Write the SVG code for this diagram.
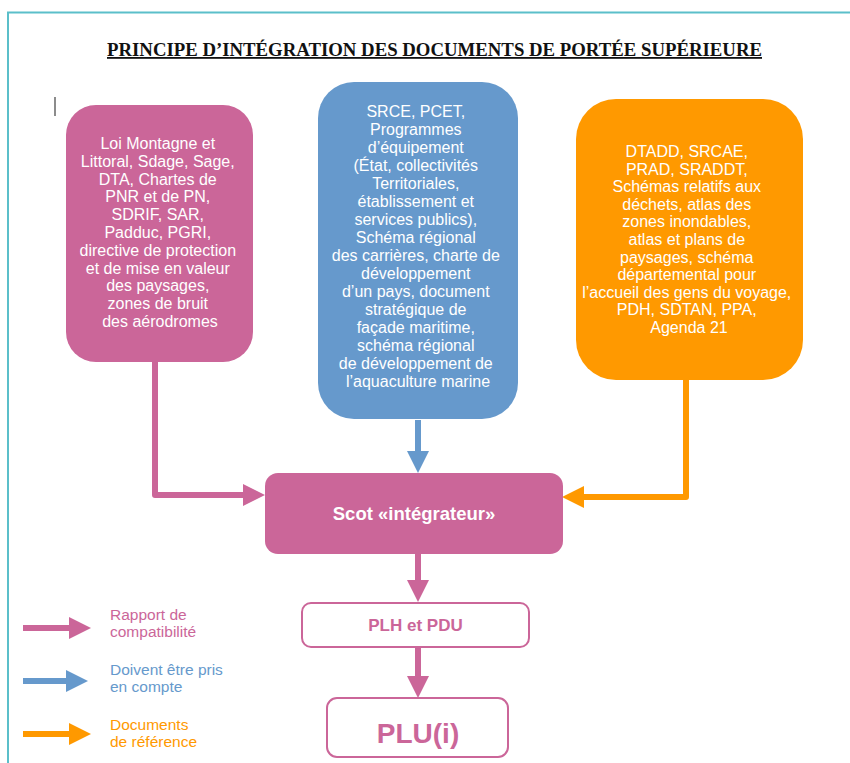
<svg xmlns="http://www.w3.org/2000/svg" width="850" height="763" viewBox="0 0 850 763">
<style>
.bt{font-family:"Liberation Sans",Arial,sans-serif;font-size:16px;fill:#ffffff;text-anchor:middle}
.lg{font-family:"Liberation Sans",Arial,sans-serif;font-size:15.5px}
.pk{fill:#cb6699}.bl{fill:#6699cc}.or{fill:#ff9900}
.cp{stroke:#cb6699}.cb{stroke:#6699cc}.co{stroke:#ff9900}
.cn{fill:none;stroke-width:6;stroke-linejoin:round}
</style>
<defs>
<marker id="ap" viewBox="0 0 22 22" markerUnits="userSpaceOnUse" markerWidth="22" markerHeight="22" refX="0" refY="11" orient="auto"><path d="M0,0 L22,11 L0,22 z" fill="#cb6699"/></marker>
<marker id="ab" viewBox="0 0 22 22" markerUnits="userSpaceOnUse" markerWidth="22" markerHeight="22" refX="0" refY="11" orient="auto"><path d="M0,0 L22,11 L0,22 z" fill="#6699cc"/></marker>
<marker id="ao" viewBox="0 0 22 22" markerUnits="userSpaceOnUse" markerWidth="22" markerHeight="22" refX="0" refY="11" orient="auto"><path d="M0,0 L22,11 L0,22 z" fill="#ff9900"/></marker>
</defs>
<rect width="850" height="763" fill="#ffffff"/>
<polyline points="850,12.5 8,12.5 8,763" fill="none" stroke="#5bbfca" stroke-width="2"/>
<line x1="55" y1="97" x2="55" y2="116" stroke="#666" stroke-width="1.5"/>
<text x="434.5" y="56" font-family="'Liberation Serif','Times New Roman',serif" font-weight="bold" font-size="18" text-anchor="middle" text-decoration="underline" textLength="655" lengthAdjust="spacingAndGlyphs" fill="#111">PRINCIPE D’INTÉGRATION DES DOCUMENTS DE PORTÉE SUPÉRIEURE</text>

<g id="connectors">
<path class="cn cp" d="M155,362 V495 H243" marker-end="url(#ap)"/>
<path class="cn co" d="M686,380 V497 H584" marker-end="url(#ao)"/>
<path class="cn cb" d="M418,420 V451" marker-end="url(#ab)"/>
<path class="cn cp" d="M418,554 V580" marker-end="url(#ap)"/>
<path class="cn cp" d="M418,648 V676" marker-end="url(#ap)"/>
</g>

<g id="box-left">
<rect x="66" y="105" width="187" height="257" rx="30" class="pk"/>
<text class="bt">
<tspan x="160" y="149">Loi Montagne et</tspan>
<tspan x="160" y="166.8">Littoral, Sdage, Sage,</tspan>
<tspan x="160" y="184.6">DTA, Chartes de</tspan>
<tspan x="160" y="202.4">PNR et de PN,</tspan>
<tspan x="160" y="220.2">SDRIF, SAR,</tspan>
<tspan x="160" y="238">Padduc, PGRI,</tspan>
<tspan x="160" y="255.8">directive de protection</tspan>
<tspan x="160" y="273.6">et de mise en valeur</tspan>
<tspan x="160" y="291.4">des paysages,</tspan>
<tspan x="160" y="309.2">zones de bruit</tspan>
<tspan x="160" y="327">des aérodromes</tspan>
</text>
</g>

<g id="box-middle">
<rect x="318" y="82" width="200" height="337" rx="36" class="bl"/>
<text class="bt">
<tspan x="418" y="117">SRCE, PCET,</tspan>
<tspan x="418" y="135">Programmes</tspan>
<tspan x="418" y="153">d’équipement</tspan>
<tspan x="418" y="171">(État, collectivités</tspan>
<tspan x="418" y="189">Territoriales,</tspan>
<tspan x="418" y="207">établissement et</tspan>
<tspan x="418" y="225">services publics),</tspan>
<tspan x="418" y="243">Schéma régional</tspan>
<tspan x="418" y="261">des carrières, charte de</tspan>
<tspan x="418" y="279">développement</tspan>
<tspan x="418" y="297">d’un pays, document</tspan>
<tspan x="418" y="315">stratégique de</tspan>
<tspan x="418" y="333">façade maritime,</tspan>
<tspan x="418" y="351">schéma régional</tspan>
<tspan x="418" y="369">de développement de</tspan>
<tspan x="418" y="387">l’aquaculture marine</tspan>
</text>
</g>

<g id="box-right">
<rect x="576" y="99" width="227" height="281" rx="40" class="or"/>
<text class="bt">
<tspan x="689" y="157">DTADD, SRCAE,</tspan>
<tspan x="689" y="174.6">PRAD, SRADDT,</tspan>
<tspan x="689" y="192.2">Schémas relatifs aux</tspan>
<tspan x="689" y="209.8">déchets, atlas des</tspan>
<tspan x="689" y="227.4">zones inondables,</tspan>
<tspan x="689" y="245">atlas et plans de</tspan>
<tspan x="689" y="262.6">paysages, schéma</tspan>
<tspan x="689" y="280.2">départemental pour</tspan>
<tspan x="689" y="297.8">l’accueil des gens du voyage,</tspan>
<tspan x="689" y="315.4">PDH, SDTAN, PPA,</tspan>
<tspan x="689" y="333">Agenda 21</tspan>
</text>
</g>

<g id="scot">
<rect x="265" y="473" width="298" height="81" rx="13" class="pk"/>
<text x="414" y="520" class="bt" style="font-weight:bold;font-size:18.5px">Scot «intégrateur»</text>
</g>

<g id="plh">
<rect x="302" y="603" width="227" height="44" rx="9" fill="#ffffff" stroke="#cb6699" stroke-width="2"/>
<text x="415.5" y="631" font-family="'Liberation Sans',Arial,sans-serif" font-weight="bold" font-size="17" text-anchor="middle" class="pk">PLH et PDU</text>
</g>

<g id="plu">
<rect x="327" y="698" width="181" height="59" rx="10" fill="#ffffff" stroke="#cb6699" stroke-width="2"/>
<text x="418" y="743" font-family="'Liberation Sans',Arial,sans-serif" font-weight="bold" font-size="28" text-anchor="middle" class="pk">PLU(i)</text>
</g>

<g id="legend">
<path class="cn cp" d="M23,628 H69" marker-end="url(#ap)"/>
<path class="cn cb" d="M23,681 H66" marker-end="url(#ab)"/>
<path class="cn co" d="M23,734 H69" marker-end="url(#ao)"/>
<text class="lg pk"><tspan x="110" y="620">Rapport de</tspan><tspan x="110" y="637">compatibilité</tspan></text>
<text class="lg bl"><tspan x="110" y="675">Doivent être pris</tspan><tspan x="110" y="692">en compte</tspan></text>
<text class="lg or"><tspan x="110" y="730">Documents</tspan><tspan x="110" y="747">de référence</tspan></text>
</g>
</svg>
